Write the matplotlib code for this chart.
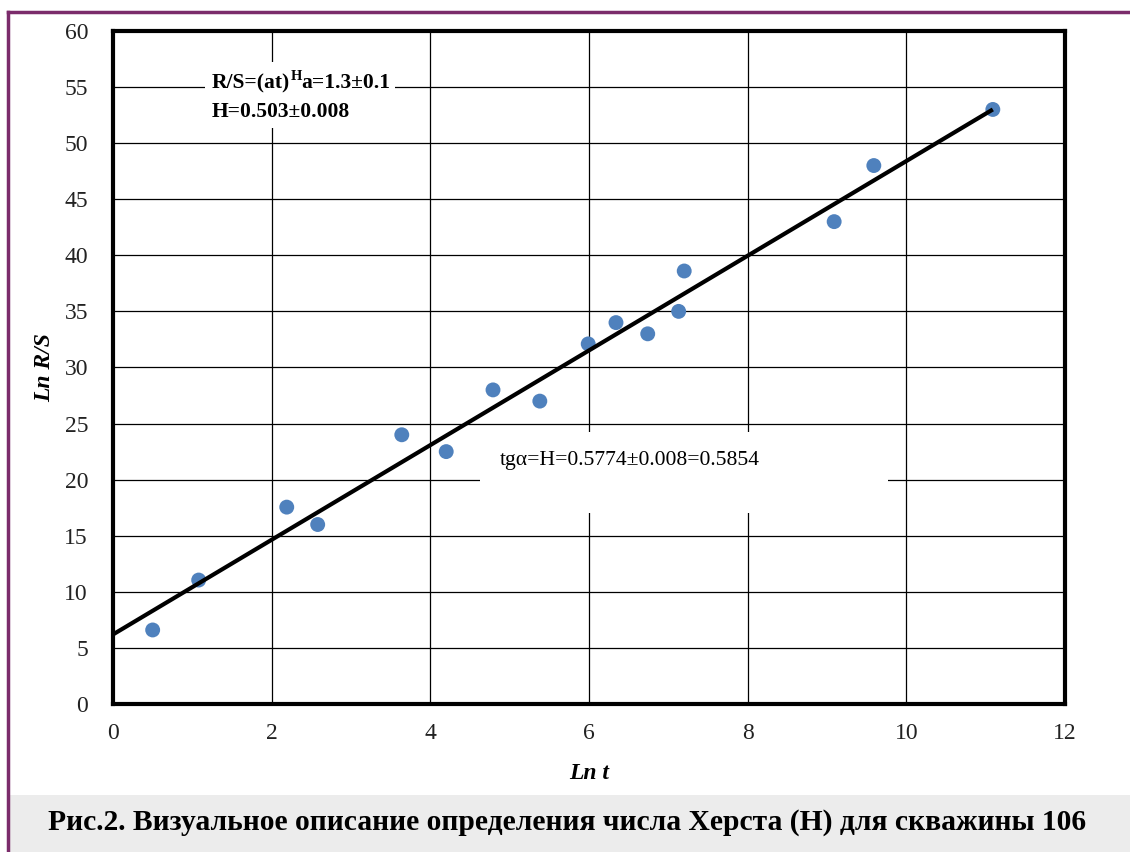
import matplotlib
matplotlib.use("Agg")
import matplotlib.pyplot as plt
from matplotlib.patches import Rectangle
from matplotlib.lines import Line2D

ln_t = [0.5, 1.08, 2.19, 2.58, 3.64, 4.2, 4.79, 5.38, 5.99, 6.34, 6.74, 7.13, 7.2, 9.09, 9.59, 11.09]
ln_rs = [6.6, 11.05, 17.55, 16.0, 24.0, 22.5, 28.0, 27.0, 32.1, 34.0, 33.0, 35.0, 38.6, 43.0, 48.0, 53.0]
fit_x = [0.0, 11.09]
fit_y = [6.2, 53.0]
x_ticks = [0, 2, 4, 6, 8, 10, 12]
y_ticks = [0, 5, 10, 15, 20, 25, 30, 35, 40, 45, 50, 55, 60]

serif = ["Liberation Serif", "DejaVu Serif"]
plt.rcParams['font.family'] = serif

W, H = 1130, 852
fig = plt.figure(figsize=(W / 100, H / 100), dpi=100)
ax = fig.add_axes([0.1, 0.1737, 0.8425, 0.79])

ax.set_xlim(0, 12)
ax.set_ylim(0, 60)
ax.set_xticks(x_ticks)
ax.set_yticks(y_ticks)
ax.grid(True, color="black", linewidth=0.9)
ax.set_axisbelow(True)
for s in ax.spines.values():
    s.set_linewidth(3)
ax.tick_params(length=0, labelsize=17, colors="#222222")
ax.tick_params(axis="y", pad=18)
ax.tick_params(axis="x", pad=14)

ax.scatter(ln_t, ln_rs, s=115, color="#4f81bd", zorder=3, edgecolors="none")
ax.plot(fit_x, fit_y, color="black", linewidth=3, zorder=4, solid_capstyle="butt")

ax.set_xlabel("Ln t", fontsize=17, fontweight="bold", style="italic", va="center")
ax.set_ylabel("Ln R/S", fontsize=17, fontweight="bold", style="italic", va="center")
ax.xaxis.set_label_coords((589 - 113) / 952, (704 - 773) / 673)
ax.yaxis.set_label_coords((45 - 113) / 952, (704 - 368) / 673)


def fx(px):
    return px / W


def fy(py):
    return 1 - py / H


# white boxes masking gridlines
fig.patches.append(Rectangle((fx(205), fy(128)), 190 / W, 66 / H,
                             transform=fig.transFigure, facecolor="white", edgecolor="none", zorder=2))
fig.patches.append(Rectangle((fx(480), fy(513)), 408 / W, 81 / H,
                             transform=fig.transFigure, facecolor="white", edgecolor="none", zorder=2))

renderer = fig.canvas.get_renderer()
t1 = fig.text(fx(212), fy(83), "R/S=(at)", fontsize=15.5, fontweight="bold", va="center", ha="left", zorder=5)
x1 = t1.get_window_extent(renderer).x1
t2 = fig.text(x1 / W, fy(77), "H", fontsize=10.5, fontweight="bold", va="center", ha="left", zorder=5)
x2 = t2.get_window_extent(renderer).x1
fig.text(x2 / W, fy(83), "a=1.3±0.1", fontsize=15.5, fontweight="bold", va="center", ha="left", zorder=5)
fig.text(fx(212), fy(112), "H=0.503±0.008", fontsize=15.5, fontweight="bold", va="center", ha="left", zorder=5)
fig.text(fx(500), fy(461), "tgα=H=0.5774±0.008=0.5854", fontsize=15.6, va="center", ha="left", zorder=5)

# page decorations
fig.add_artist(Line2D([fx(8), 1], [fy(12), fy(12)], transform=fig.transFigure,
                      color="#7b2c6b", linewidth=2.5))
fig.add_artist(Line2D([fx(8), fx(8)], [0, fy(12)], transform=fig.transFigure,
                      color="#7b2c6b", linewidth=2.5))
fig.patches.append(Rectangle((fx(10), 0), 1, 57 / H, transform=fig.transFigure,
                             facecolor="#ececec", edgecolor="none", zorder=1))
fig.text(fx(567), fy(822),
         "Рис.2. Визуальное описание определения числа Херста (Н) для скважины 106",
         fontsize=21.3, fontweight="bold", ha="center", va="center", zorder=5)

fig.savefig("out.png", dpi=100)
